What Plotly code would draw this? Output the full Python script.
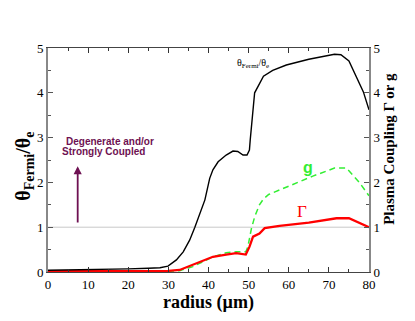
import plotly.graph_objects as go

# Data
r_theta = [0, 5, 10, 15, 20, 25, 27.9, 29.9, 32, 33.7, 35.3, 36.6, 37.8, 39.1, 40.3, 41.1, 42.4, 44.4, 46.1, 47.3,
           48.6, 49.6, 50.2, 50.4, 51.5, 53.7, 56, 59.4, 65, 69.7, 71.4, 73, 75, 78.6, 80]
theta_ratio = [0.04, 0.045, 0.05, 0.06, 0.07, 0.085, 0.096, 0.13, 0.27, 0.45, 0.71, 1.0, 1.31, 1.61, 2.09, 2.28,
               2.46, 2.61, 2.7, 2.69, 2.61, 2.61, 2.72, 2.95, 4.0, 4.37, 4.5, 4.62, 4.75, 4.82, 4.86, 4.85, 4.71,
               4.02, 3.62]

r_gamma = [0, 10, 20, 25, 28, 30, 32.8, 36.1, 38.6, 41.1, 44.4, 46.9, 49.3, 50.2, 51.1, 52.7, 54, 57.7, 65, 71.9,
           75, 78, 80]
gamma = [0.02, 0.02, 0.02, 0.02, 0.02, 0.025, 0.045, 0.16, 0.25, 0.34, 0.39, 0.42, 0.39, 0.56, 0.79, 0.86, 0.98,
         1.03, 1.1, 1.2, 1.2, 1.09, 1.0]

r_g = [0, 10, 20, 25, 28, 30, 32.8, 36.1, 38.6, 41.1, 44.4, 46.9, 49.3, 49.8, 50.7, 51.5, 52.7, 53.7, 55, 57.7, 62,
       66, 71.4, 74.4, 77.6, 80]
g = [0.01, 0.01, 0.01, 0.01, 0.01, 0.015, 0.03, 0.12, 0.23, 0.34, 0.43, 0.45, 0.45, 0.56, 0.97, 1.23, 1.5, 1.63,
     1.73, 1.83, 1.98, 2.14, 2.32, 2.32, 2.0, 1.7]

ref_x = [0, 80]
ref_y = [1, 1]

serif = "Liberation Serif, Times New Roman, serif"
purple = "#6e1152"

FIG_W, FIG_H = 407, 313
ML, MR, MT, MB = 40, 46, 40, 49

fig = go.Figure()
fig.add_trace(go.Scatter(x=ref_x, y=ref_y, mode="lines", line=dict(color="#c8c8c8", width=1), showlegend=False))
fig.add_trace(go.Scatter(x=r_g, y=g, mode="lines", line=dict(color="#33ee33", width=1.5, dash="6px,4px"),
                         showlegend=False))
fig.add_trace(go.Scatter(x=r_gamma, y=gamma, mode="lines", line=dict(color="#ff0000", width=2.3), showlegend=False))
fig.add_trace(go.Scatter(x=r_theta, y=theta_ratio, mode="lines", line=dict(color="#000000", width=1.4),
                         showlegend=False))
fig.add_trace(go.Scatter(x=[0], y=[0], yaxis="y2", mode="markers", marker=dict(opacity=0), showlegend=False,
                         hoverinfo="skip"))

tick_font = dict(family=serif, size=13, color="black")
plot_w = FIG_W - ML - MR


def px_to_paper_x(px):
    return (px - ML) / plot_w


fig.update_layout(
    width=FIG_W, height=FIG_H,
    margin=dict(l=ML, r=MR, t=MT, b=MB),
    paper_bgcolor="white", plot_bgcolor="white",
    xaxis=dict(range=[0, 80], tickvals=[0, 10, 20, 30, 40, 50, 60, 70, 80], ticks="inside", ticklen=5,
               tickcolor="#333", showgrid=False, zeroline=False, showline=True, linecolor="#444", linewidth=1,
               mirror="ticks", tickfont=tick_font, automargin=False,
               minor=dict(dtick=5, ticks="inside", ticklen=3, tickcolor="#333"),
               title=dict(text="<b>radius (µm)</b>", font=dict(family=serif, size=18, color="black"), standoff=2)),
    yaxis=dict(range=[0, 5], tickvals=[0, 1, 2, 3, 4, 5], ticks="inside", ticklen=5, tickcolor="#555",
               showgrid=False, zeroline=False, showline=True, linecolor="#888", linewidth=2, tickfont=tick_font,
               automargin=False,
               minor=dict(dtick=0.5, ticks="inside", ticklen=3, tickcolor="#555")),
    yaxis2=dict(range=[0, 5], overlaying="y", side="right", tickvals=[0, 1, 2, 3, 4, 5], ticks="inside", ticklen=5,
                tickcolor="#555", showgrid=False, zeroline=False, showline=True, linecolor="#888", linewidth=2,
                tickfont=tick_font, automargin=False,
                minor=dict(dtick=0.5, ticks="inside", ticklen=3, tickcolor="#555")),
    annotations=[
        dict(x=px_to_paper_x(17), y=0.47, xref="paper", yref="paper", xanchor="center", yanchor="middle",
             textangle=-90, text="<b>θ<sub>Fermi</sub>/θ<sub>e</sub></b>", showarrow=False,
             font=dict(family=serif, size=20, color="black")),
        dict(x=px_to_paper_x(381), y=0.55, xref="paper", yref="paper", xanchor="center", yanchor="middle",
             textangle=-90, text="<b>Plasma Coupling Γ or g</b>", showarrow=False,
             font=dict(family=serif, size=15, color="black")),
        dict(x=7.4, y=2.36, ax=7.4, ay=1.07, xref="x", yref="y", axref="x", ayref="y", text="", showarrow=True,
             arrowhead=2, arrowsize=0.9, arrowwidth=1.8, arrowcolor=purple),
        dict(x=15.4, y=2.92, xref="x", yref="y", text="<b>Degenerate and/or</b>", showarrow=False,
             font=dict(family="Liberation Sans", size=10, color=purple), xanchor="center", yanchor="middle"),
        dict(x=13.9, y=2.69, xref="x", yref="y", text="<b>Strongly Coupled</b>", showarrow=False,
             font=dict(family="Liberation Sans", size=10, color=purple), xanchor="center", yanchor="middle"),
        dict(x=51, y=4.66, xref="x", yref="y", text="θ<sub>Fermi</sub>/θ<sub>e</sub>", showarrow=False,
             font=dict(family=serif, size=10, color="black")),
        dict(x=64.7, y=2.33, xref="x", yref="y", text="<b>g</b>", showarrow=False,
             font=dict(family="Liberation Sans", size=16, color="#33ee33")),
        dict(x=63.3, y=1.35, xref="x", yref="y", text="Γ", showarrow=False,
             font=dict(family=serif, size=17, color="#ff0000")),
    ],
)

fig.write_html("out.html")
